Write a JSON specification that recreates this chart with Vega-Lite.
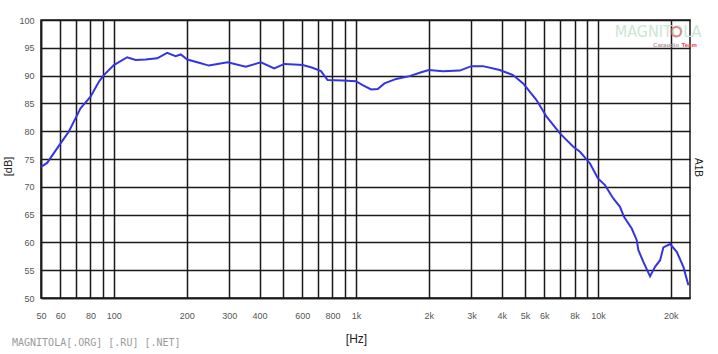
{
  "$schema": "https://vega.github.io/schema/vega-lite/v6.json",
  "width": 649,
  "height": 278,
  "autosize": {"type": "none"},
  "padding": {"left": 41, "top": 20, "right": 28, "bottom": 56},
  "background": "white",
  "config": {
    "view": {"stroke": "#1a1a1a", "strokeWidth": 1.5},
    "font": "Liberation Sans"
  },
  "title": {
    "text": "MAGNITOLA[.ORG] [.RU] [.NET]",
    "orient": "bottom",
    "anchor": "start",
    "frame": "group",
    "dx": -29,
    "dy": -6,
    "offset": 0,
    "font": "DejaVu Sans Mono",
    "fontSize": 10,
    "fontWeight": "normal",
    "color": "#9a9a9a"
  },
  "datasets": {
    "curve": [
      {"f": 50, "db": 73.6},
      {"f": 53, "db": 74.3},
      {"f": 60.2, "db": 77.8},
      {"f": 65.1, "db": 79.9},
      {"f": 70.5, "db": 82.9},
      {"f": 72.8, "db": 84.1},
      {"f": 80.1, "db": 86.2},
      {"f": 86.7, "db": 88.9},
      {"f": 90.9, "db": 90.1},
      {"f": 100, "db": 91.9},
      {"f": 113.5, "db": 93.3},
      {"f": 123, "db": 92.8},
      {"f": 135, "db": 92.9},
      {"f": 151, "db": 93.1},
      {"f": 166, "db": 94.1},
      {"f": 180, "db": 93.5},
      {"f": 189, "db": 93.8},
      {"f": 201, "db": 92.9},
      {"f": 225, "db": 92.3},
      {"f": 247, "db": 91.8},
      {"f": 295, "db": 92.4},
      {"f": 351, "db": 91.6},
      {"f": 405, "db": 92.4},
      {"f": 460, "db": 91.3},
      {"f": 506, "db": 92.1},
      {"f": 556, "db": 92.0},
      {"f": 603, "db": 91.9},
      {"f": 662, "db": 91.4},
      {"f": 717, "db": 90.8},
      {"f": 764, "db": 89.2},
      {"f": 882, "db": 89.1},
      {"f": 1000, "db": 89.0},
      {"f": 1066, "db": 88.3},
      {"f": 1156, "db": 87.5},
      {"f": 1231, "db": 87.6},
      {"f": 1312, "db": 88.6},
      {"f": 1467, "db": 89.4},
      {"f": 1666, "db": 89.9},
      {"f": 1862, "db": 90.6},
      {"f": 2002, "db": 91.0},
      {"f": 2286, "db": 90.8},
      {"f": 2684, "db": 90.9},
      {"f": 3000, "db": 91.7},
      {"f": 3350, "db": 91.7},
      {"f": 3926, "db": 91.0},
      {"f": 4457, "db": 90.1},
      {"f": 4906, "db": 88.6},
      {"f": 5573, "db": 85.6},
      {"f": 6133, "db": 82.6},
      {"f": 6966, "db": 79.6},
      {"f": 7908, "db": 77.2},
      {"f": 8430, "db": 76.3},
      {"f": 9270, "db": 74.2},
      {"f": 10000, "db": 71.5},
      {"f": 10690, "db": 70.3},
      {"f": 11570, "db": 67.9},
      {"f": 12330, "db": 66.4},
      {"f": 12810, "db": 64.6},
      {"f": 13790, "db": 62.5},
      {"f": 14460, "db": 60.4},
      {"f": 14690, "db": 58.6},
      {"f": 15400, "db": 56.5},
      {"f": 16410, "db": 53.9},
      {"f": 17210, "db": 55.6},
      {"f": 18060, "db": 56.8},
      {"f": 18630, "db": 59.1},
      {"f": 19860, "db": 59.7},
      {"f": 21160, "db": 58.3},
      {"f": 22540, "db": 55.6},
      {"f": 23640, "db": 52.3}
    ],
    "logo": [{"word": "MAGNITOLA", "team1": "Caraudio", "team2": "Team"}]
  },
  "data": {"name": "curve"},
  "layer": [
    {
      "mark": {"type": "line", "color": "#3434e2", "strokeWidth": 2},
      "encoding": {
        "x": {
          "field": "f",
          "type": "quantitative",
          "scale": {"type": "log", "domain": [50, 24000], "nice": false},
          "axis": {
            "title": "[Hz]",
            "titleX": 315,
            "titleY": 40,
            "titleAlign": "center",
            "titleBaseline": "middle",
            "titleFontSize": 12,
            "titleFontWeight": "normal",
            "titleColor": "#222",
            "values": [50, 60, 70, 80, 90, 100, 200, 300, 400, 500, 600, 700, 800, 900, 1000, 2000, 3000, 4000, 5000, 6000, 7000, 8000, 9000, 10000, 20000],
            "labelExpr": "indexof([50,60,80,100,200,300,400,600,800], datum.value) >= 0 ? datum.value + '' : (indexof([1000,2000,3000,4000,5000,6000,8000,10000,20000], datum.value) >= 0 ? (datum.value / 1000) + 'k' : '')",
            "labelFontSize": 9,
            "labelColor": "#555",
            "labelPadding": 13,
            "labelFlush": false,
            "labelOverlap": false,
            "ticks": false,
            "grid": true,
            "gridColor": "#1a1a1a",
            "gridWidth": 1.5,
            "gridOpacity": 1,
            "domainColor": "#1a1a1a",
            "domainWidth": 1.5
          }
        },
        "y": {
          "field": "db",
          "type": "quantitative",
          "scale": {"domain": [50, 100], "nice": false, "zero": false},
          "axis": {
            "title": "[dB]",
            "titleX": -33,
            "titleY": 146,
            "titleAngle": -90,
            "titleAlign": "center",
            "titleBaseline": "middle",
            "titleFontSize": 11,
            "titleFontWeight": "normal",
            "titleColor": "#222",
            "values": [50, 55, 60, 65, 70, 75, 80, 85, 90, 95, 100],
            "labelFontSize": 9,
            "labelColor": "#555",
            "labelPadding": 7,
            "labelFlush": false,
            "ticks": false,
            "grid": true,
            "gridColor": "#1a1a1a",
            "gridWidth": 1.5,
            "gridOpacity": 1,
            "domainColor": "#1a1a1a",
            "domainWidth": 1.5
          }
        }
      }
    },
    {
      "mark": {"type": "line", "opacity": 0},
      "encoding": {
        "x": {"field": "f", "type": "quantitative"},
        "y": {
          "field": "db",
          "type": "quantitative",
          "axis": {
            "orient": "right",
            "title": "A1B",
            "titleAngle": 90,
            "titleX": 7,
            "titleY": 147,
            "titleAlign": "center",
            "titleBaseline": "middle",
            "titleFontSize": 10,
            "titleFontWeight": "normal",
            "titleColor": "#222",
            "labels": false,
            "ticks": false,
            "grid": false,
            "domain": false
          }
        }
      }
    },
    {
      "data": {"name": "logo"},
      "mark": {"type": "text", "font": "DejaVu Sans Condensed", "fontSize": 16, "color": "#c9e7d2", "align": "center", "baseline": "middle"},
      "encoding": {
        "x": {"datum": 17720, "type": "quantitative"},
        "y": {"datum": 97.9, "type": "quantitative", "axis": null},
        "text": {"field": "word"}
      }
    },
    {
      "data": {"name": "logo"},
      "mark": {"type": "point", "shape": "circle", "filled": false, "color": "#e05a5a", "strokeWidth": 2, "size": 90},
      "encoding": {
        "x": {"datum": 21040, "type": "quantitative"},
        "y": {"datum": 97.9, "type": "quantitative", "axis": null}
      }
    },
    {
      "data": {"name": "logo"},
      "mark": {"type": "text", "font": "Liberation Sans", "fontSize": 6, "fontWeight": "bold", "color": "#b09a9a", "align": "center", "baseline": "middle"},
      "encoding": {
        "x": {"datum": 19120, "type": "quantitative"},
        "y": {"datum": 95.5, "type": "quantitative", "axis": null},
        "text": {"field": "team1"}
      }
    },
    {
      "data": {"name": "logo"},
      "mark": {"type": "text", "font": "Liberation Sans", "fontSize": 6, "fontWeight": "bold", "color": "#e04848", "align": "center", "baseline": "middle"},
      "encoding": {
        "x": {"datum": 23810, "type": "quantitative"},
        "y": {"datum": 95.5, "type": "quantitative", "axis": null},
        "text": {"field": "team2"}
      }
    }
  ],
  "resolve": {"axis": {"y": "independent"}}
}
